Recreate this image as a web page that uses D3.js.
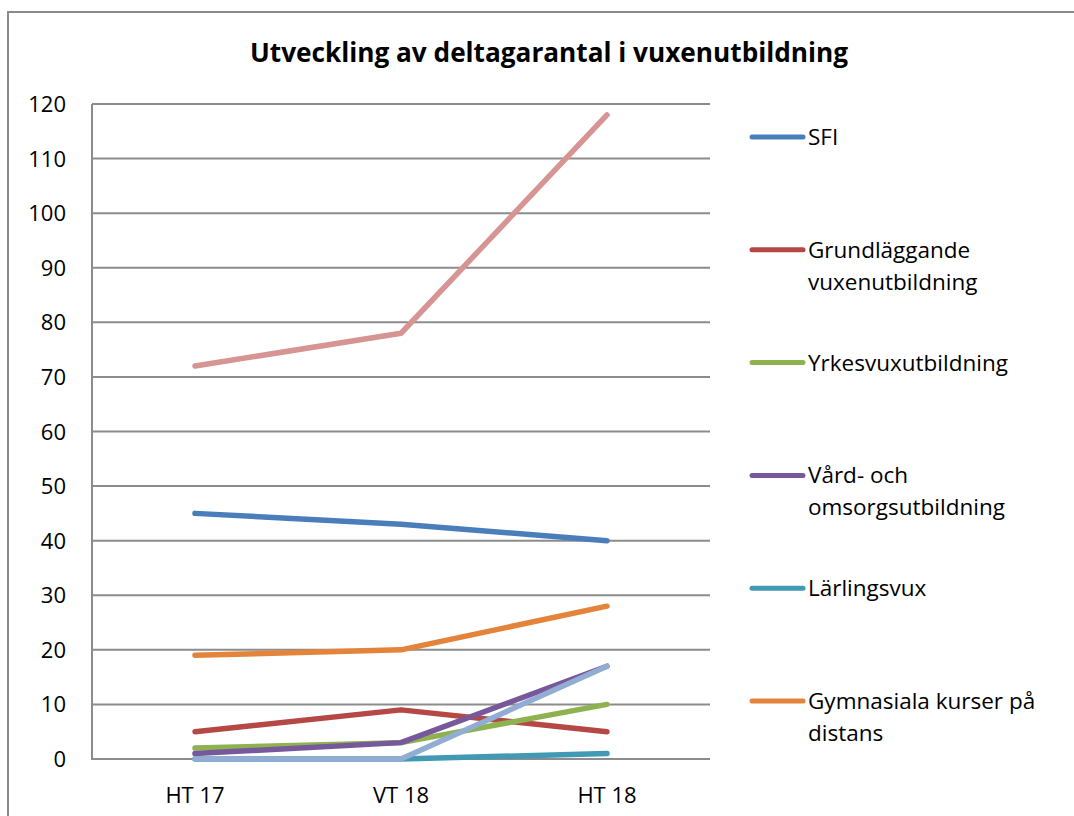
<!DOCTYPE html>
<html>
<head>
<meta charset="utf-8">
<script src="https://cdn.jsdelivr.net/npm/d3@7"></script>
<style>
  body { margin: 0; background: #fff; }
  svg { display: block; font-family: "Open Sans", Lato, sans-serif; }
</style>
</head>
<body>
<svg width="1074" height="816"></svg>
<script>
// chart data
const periods = ['HT 17', 'VT 18', 'HT 18'];
const seriesNames = ['SFI', 'Grundläggande vuxenutbildning', 'Yrkesvuxutbildning',
  'Vård- och omsorgsutbildning', 'Lärlingsvux', 'Gymnasiala kurser på distans', '', ''];
const sfi = [45, 43, 40];
const grund = [5, 9, 5];
const yrkes = [2, 3, 10];
const vard = [1, 3, 17];
const larling = [0, 0, 1];
const gymn = [19, 20, 28];
const series7 = [72, 78, 118];
const series8 = [0, 0, 17];
const yTicks = [0, 10, 20, 30, 40, 50, 60, 70, 80, 90, 100, 110, 120];

const colors = ['#4a7ebb', '#b54845', '#8fb250', '#77599b', '#4199b3', '#e3843a', '#d69492', '#91add3'];
const values = [sfi, grund, yrkes, vard, larling, gymn, series7, series8];

const svg = d3.select('svg');

// outer frame (cut off at right and bottom)
svg.append('path')
  .attr('d', 'M8,816 L8,12 L1074,12')
  .attr('fill', 'none').attr('stroke', '#8a8a8a').attr('stroke-width', 2);

svg.append('text')
  .attr('x', 549).attr('y', 62)
  .attr('text-anchor', 'middle')
  .attr('font-size', 26).attr('font-weight', 'bold')
  .attr('textLength', 598).attr('lengthAdjust', 'spacingAndGlyphs')
  .text('Utveckling av deltagarantal i vuxenutbildning');

const x = d3.scaleBand().domain(periods).range([92, 710]);
const y = d3.scaleLinear().domain([0, 120]).range([759, 104]);

// gridlines
svg.append('g').selectAll('line').data(yTicks).join('line')
  .attr('x1', 92).attr('x2', 710)
  .attr('y1', d => y(d)).attr('y2', d => y(d))
  .attr('stroke', '#8c8c8c').attr('stroke-width', 2);

svg.append('line')
  .attr('x1', 92).attr('x2', 92).attr('y1', 104).attr('y2', 760)
  .attr('stroke', '#8c8c8c').attr('stroke-width', 2);

// y axis labels
svg.append('g').selectAll('text').data(yTicks).join('text')
  .attr('x', 66).attr('y', d => y(d) + 8)
  .attr('text-anchor', 'end').attr('font-size', 22).attr('fill', '#000')
  .text(d => d);

// x axis labels
svg.append('g').selectAll('text').data(periods).join('text')
  .attr('x', d => x(d) + x.bandwidth() / 2).attr('y', 803)
  .attr('text-anchor', 'middle').attr('font-size', 22)
  .text(d => d);

const line = d3.line()
  .x((d, i) => x(periods[i]) + x.bandwidth() / 2)
  .y(d => y(d));

svg.append('g').selectAll('path').data(values).join('path')
  .attr('d', d => line(d))
  .attr('fill', 'none')
  .attr('stroke', (d, i) => colors[i])
  .attr('stroke-width', 5.5)
  .attr('stroke-linecap', 'round')
  .attr('stroke-linejoin', 'round');

// legend
const legendLines = [['SFI'], ['Grundläggande', 'vuxenutbildning'], ['Yrkesvuxutbildning'],
  ['Vård- och', 'omsorgsutbildning'], ['Lärlingsvux'], ['Gymnasiala kurser på', 'distans']];
const legend = svg.append('g').selectAll('g').data(legendLines).join('g')
  .attr('transform', (d, i) => `translate(752, ${137 + i * 112.8})`);
legend.append('line')
  .attr('x1', 0).attr('x2', 51)
  .attr('stroke', (d, i) => colors[i])
  .attr('stroke-width', 5).attr('stroke-linecap', 'round');
legend.append('text')
  .attr('x', 56).attr('y', 8).attr('font-size', 22.5)
  .selectAll('tspan').data(d => d).join('tspan')
  .attr('x', 56).attr('dy', (d, i) => i === 0 ? 0 : 32)
  .text(d => d);
</script>
</body>
</html>
